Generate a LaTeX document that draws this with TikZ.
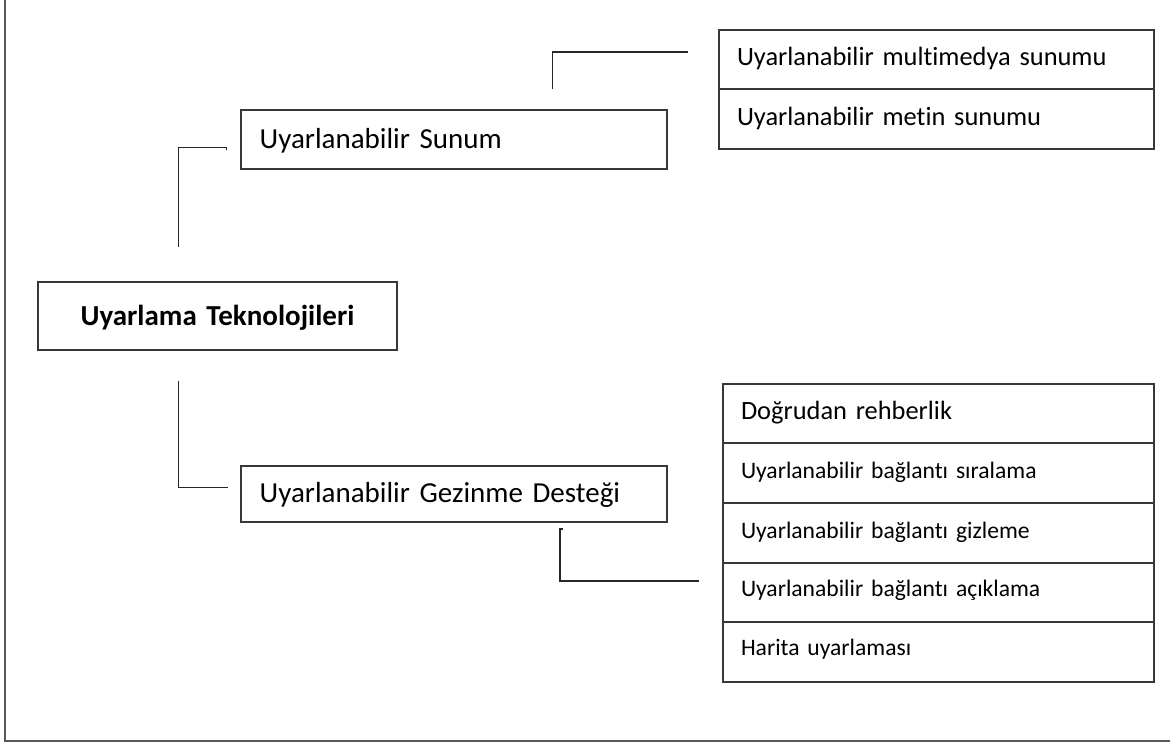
\documentclass[tikz,border=0pt]{standalone}
\usepackage{fontspec}
\setmainfont{Carlito}[Ligatures=NoCommon]
\begin{document}
\begin{tikzpicture}[x=1pt,y=-1pt,
  box/.style={draw=black!78, line width=1.7pt, rectangle, inner ysep=0pt, outer sep=0pt, align=left},
  bigtxt/.style={font=\fontsize{29}{35}\selectfont, text height=18pt, text depth=0pt},
  midtxt/.style={font=\fontsize{26.4}{32}\selectfont, text height=12.5pt, text depth=0pt},
  smalltxt/.style={font=\fontsize{23.6}{28}\selectfont, text height=10pt, text depth=0pt},
  conn/.style={draw=black!85, line width=1.4pt},
  frame/.style={draw=black!65, line width=1.6pt}]
\useasboundingbox (0,0) rectangle (1170,744);
% outer frame (only left and bottom edges visible)
\draw[frame] (5,-20) -- (5,741) -- (1190,741);
% root
\node[box, bigtxt, font=\fontsize{29}{35}\selectfont\bfseries, anchor=north west, inner xsep=0pt,
      text width=359pt, align=center, minimum height=68pt] (root) at (38,282) {Uyarlama Teknolojileri};
% second level
\node[box, bigtxt, anchor=north west, inner xsep=19pt, text width=388pt, minimum height=59.3pt] (sunum) at (240.7,110) {Uyarlanabilir Sunum};
\node[box, bigtxt, anchor=north west, inner xsep=19pt, text width=388pt, minimum height=55.7pt] (gezinme) at (240.7,466) {Uyarlanabilir Gezinme Desteği};
% top list
\node[box, midtxt, anchor=north west, inner xsep=18pt, text width=399pt, minimum height=59pt] (t1) at (719,30) {Uyarlanabilir multimedya sunumu};
\node[box, midtxt, anchor=north west, inner xsep=18pt, text width=399pt, minimum height=60.3pt] (t2) at (t1.south west) {Uyarlanabilir metin sunumu};
% bottom list
\node[box, midtxt, anchor=north west, inner xsep=18pt, text width=395pt, minimum height=59pt] (b1) at (723,384) {Doğrudan rehberlik};
\node[box, smalltxt, anchor=north west, inner xsep=18pt, text width=395pt, minimum height=60.3pt] (b2) at (b1.south west) {Uyarlanabilir bağlantı sıralama};
\node[box, smalltxt, anchor=north west, inner xsep=18pt, text width=395pt, minimum height=60pt] (b3) at (b2.south west) {Uyarlanabilir bağlantı gizleme};
\node[box, smalltxt, text height=7.5pt, anchor=north west, inner xsep=18pt, text width=395pt, minimum height=58.4pt] (b4) at (b3.south west) {Uyarlanabilir bağlantı açıklama};
\node[box, smalltxt, text height=7pt, anchor=north west, inner xsep=18pt, text width=395pt, minimum height=60.3pt] (b5) at (b4.south west) {Harita uyarlaması};
% connector end points
\coordinate (c1a) at (178.3,246.7);
\coordinate (c1b) at (226.7,147.3);
\coordinate (c2a) at (178.3,380.7);
\coordinate (c2b) at (227.7,487.3);
\coordinate (c3a) at (552.7,89);
\coordinate (c3b) at (688,52);
\coordinate (c4a) at (560,529);
\coordinate (c4b) at (699,581);
% connectors
\draw[conn] (c1a) |- (c1b) -- ++(0,2.5);
\draw[conn] (c2a) |- (c2b);
\draw[conn] (c3a) |- (c3b);
\draw[conn] ([xshift=2.5pt]c4a) -- (c4a) |- (c4b);
\end{tikzpicture}
\end{document}
